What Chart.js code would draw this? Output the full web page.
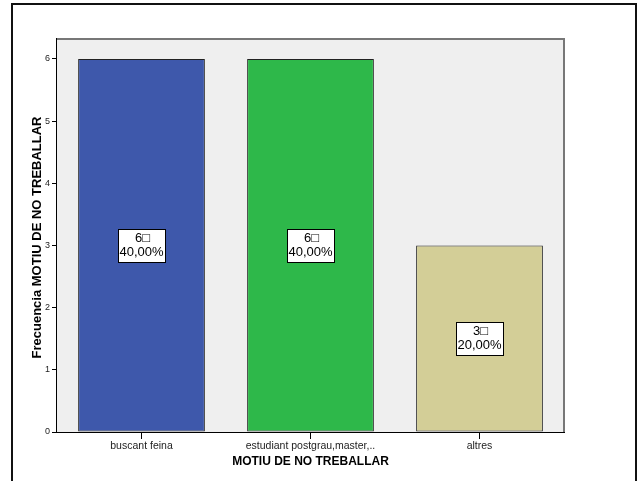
<!DOCTYPE html>
<html>
<head>
<meta charset="utf-8">
<script src="https://cdn.jsdelivr.net/npm/chart.js@4/dist/chart.umd.min.js"></script>
<style>
  html, body { margin: 0; padding: 0; background: #fff; }
  #wrap { width: 639px; height: 481px; position: relative; }
</style>
</head>
<body>
<div id="wrap"><canvas id="chartId" width="639" height="481"></canvas></div>
<script>
// data
const categories = ["buscant feina", "estudiant postgrau,master,..", "altres"];
const counts = [6, 6, 3];
const percents = ["40,00%", "40,00%", "20,00%"];
const yTicks = [0, 1, 2, 3, 4, 5, 6];

const barColors = ["#3e58ab", "#2eb84a", "#d3ce97"];
const fontName = "'Liberation Sans', Arial, sans-serif";

// background, frames and axis titles
const decorPlugin = {
  id: "decor",
  beforeDatasetsDraw(chart) {
    const ctx = chart.ctx;
    const a = chart.chartArea;
    ctx.save();
    ctx.fillStyle = "#efefef";
    ctx.fillRect(a.left, a.top, a.right - a.left, a.bottom - a.top);
    ctx.strokeStyle = "#777";
    ctx.lineWidth = 2;
    ctx.beginPath();
    ctx.moveTo(a.left, a.top);
    ctx.lineTo(a.right, a.top);
    ctx.lineTo(a.right, a.bottom);
    ctx.stroke();
    ctx.restore();
  },
  afterDraw(chart) {
    const ctx = chart.ctx;
    const a = chart.chartArea;
    ctx.save();
    // outer frame (open at the bottom)
    ctx.strokeStyle = "#111";
    ctx.lineWidth = 2;
    ctx.beginPath();
    ctx.moveTo(12, 485);
    ctx.lineTo(12, 4);
    ctx.lineTo(636, 4);
    ctx.lineTo(636, 485);
    ctx.stroke();

    // x title
    ctx.fillStyle = "#000";
    ctx.font = "bold 12px " + fontName;
    ctx.textAlign = "center";
    ctx.textBaseline = "middle";
    ctx.fillText("MOTIU DE NO TREBALLAR", (a.left + a.right) / 2, 462);

    // y title
    ctx.translate(37, (a.top + a.bottom) / 2 + 2);
    ctx.rotate(-Math.PI / 2);
    ctx.font = "bold 13px " + fontName;
    ctx.fillText("Frecuencia MOTIU DE NO TREBALLAR", 0, 0);
    ctx.restore();
  }
};

// value boxes inside the bars
const labelPlugin = {
  id: "boxLabels",
  afterDatasetsDraw(chart) {
    const ctx = chart.ctx;
    const meta = chart.getDatasetMeta(0);
    const yScale = chart.scales.y;
    ctx.save();
    meta.data.forEach(function (bar, i) {
      const cx = bar.x;
      const cy = yScale.getPixelForValue(counts[i] / 2);
      const bw = 47, bh = 33;
      ctx.fillStyle = "#fff";
      ctx.fillRect(Math.round(cx - bw / 2) + 0.5, Math.round(cy - bh / 2) + 0.5, bw, bh);
      ctx.strokeStyle = "#000";
      ctx.lineWidth = 1;
      ctx.strokeRect(Math.round(cx - bw / 2) + 0.5, Math.round(cy - bh / 2) + 0.5, bw, bh);
      ctx.fillStyle = "#000";
      ctx.font = "13px " + fontName;
      ctx.textAlign = "center";
      ctx.textBaseline = "middle";
      ctx.fillText(counts[i] + "\u25A1", cx + 1, cy - 7);
      ctx.fillText(percents[i], cx, cy + 7);
    });
    ctx.restore();
  }
};

const chrt = document.getElementById("chartId").getContext("2d");
const chartId = new Chart(chrt, {
  type: "bar",
  data: {
    labels: categories,
    datasets: [
      {
        data: counts,
        backgroundColor: barColors,
        borderColor: "#222",
        borderWidth: 1,
        borderSkipped: false,
        barPercentage: 0.75,
        categoryPercentage: 1.0
      }
    ]
  },
  options: {
    responsive: false,
    animation: false,
    layout: { padding: { left: 37, top: 39, right: 75, bottom: 0 } },
    plugins: {
      legend: { display: false },
      tooltip: { enabled: false }
    },
    scales: {
      x: {
        afterFit: function (s) { s.height = 49; },
        grid: {
          drawOnChartArea: false,
          drawTicks: true,
          tickLength: 7,
          color: "#000",
          offset: false
        },
        border: { display: true, color: "#000", width: 2 },
        ticks: {
          padding: 1,
          color: "#222",
          font: { family: fontName, size: 10.5 }
        }
      },
      y: {
        min: 0,
        max: 6.32,
        afterFit: function (s) { s.width = 20; },
        afterBuildTicks: function (s) {
          s.ticks = yTicks.map(function (v) { return { value: v }; });
        },
        grid: {
          drawOnChartArea: false,
          drawTicks: true,
          tickLength: 5,
          color: "#000"
        },
        border: { display: true, color: "#000", width: 2 },
        ticks: {
          padding: 2,
          color: "#222",
          font: { family: fontName, size: 9 }
        }
      }
    }
  },
  plugins: [decorPlugin, labelPlugin]
});
</script>
</body>
</html>
